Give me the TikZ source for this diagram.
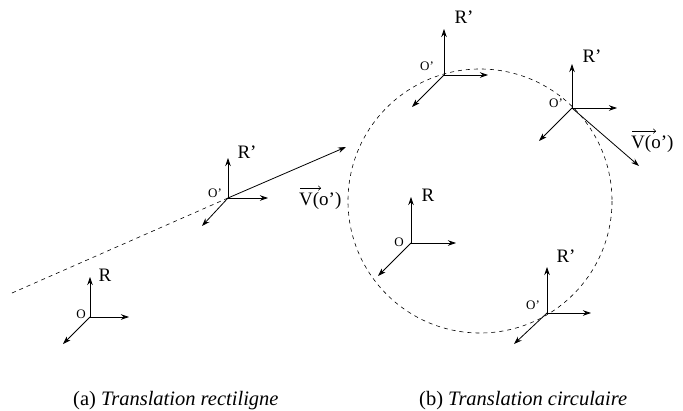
\documentclass[tikz,border=0pt]{standalone}
\usepackage{fontspec}
\setmainfont{Liberation Serif}
\usetikzlibrary{arrows.meta}
\begin{document}
\begin{tikzpicture}[x=1pt,y=-1pt,
  ax/.style={line width=0.8pt,-{Stealth[length=8pt,width=5.5pt]}},
  traj/.style={line width=0.6pt,dash pattern=on 4pt off 4pt},
  overarrow/.style={line width=0.5pt,-{To[length=3pt,width=5pt]}},
  big/.style={font=\fontsize{19}{19}\selectfont,inner sep=0pt},
  small/.style={font=\fontsize{13}{13}\selectfont,inner sep=0pt},
  captext/.style={font=\fontsize{20.5}{21}\selectfont,inner sep=0pt}]
\useasboundingbox (0,0) rectangle (683,410);
% ---------- (a) ----------
\coordinate (start) at (12,293);
\coordinate (Oa) at (90,317);
\coordinate (Oa1) at (228,198);
\draw[traj] (start) -- (Oa1);
\draw[ax] (Oa) -- (90,277);
\draw[ax] (Oa) -- (129,317);
\draw[ax] (Oa) -- (63,344);
\node[big] (Ra) at (105,275) {R};
\node[small] (oa) at (81,314) {O};
\draw[ax] (Oa1) -- (228,158);
\draw[ax] (Oa1) -- (268,198);
\draw[ax] (Oa1) -- (202,226);
\draw[ax] (Oa1) -- (346,147);
\node[big] (Ra1) at (247,152) {R'};
\node[small] (oa1) at (215,193) {O'};
\node[big,anchor=base west] (Va) at (299,205) {V(o')};
\coordinate (Va1) at ([xshift=1pt,yshift=3.5pt]Va.north west);
\coordinate (Va2) at ([xshift=21pt]Va1);
\draw[overarrow] (Va1) -- (Va2);
% ---------- (b) ----------
\coordinate (C) at (480,201);
\draw[traj] (C) circle[radius=132];
\coordinate (Ob) at (411,243);
\draw[ax] (Ob) -- (411,197);
\draw[ax] (Ob) -- (456,243);
\draw[ax] (Ob) -- (378,276);
\node[big] (Rb) at (428,195) {R};
\node[small] (ob) at (399,242) {O};
% top frame
\coordinate (Ot) at (444,75);
\draw[ax] (Ot) -- (444,29);
\draw[ax] (Ot) -- (488,75);
\draw[ax] (Ot) -- (412,107);
\node[big] (Rt) at (464,17) {R'};
\node[small] (ot) at (427,66) {O'};
% right frame
\coordinate (Or) at (572,108);
\draw[ax] (Or) -- (572,64);
\draw[ax] (Or) -- (617,108);
\draw[ax] (Or) -- (539,141);
\draw[ax] (Or) -- (639,166);
\node[big] (Rr) at (592,56) {R'};
\node[small] (or) at (556,103) {O'};
\node[big,anchor=base west] (Vr) at (631,148) {V(o')};
\coordinate (Vr1) at ([xshift=1pt,yshift=3.5pt]Vr.north west);
\coordinate (Vr2) at ([xshift=24pt]Vr1);
\draw[overarrow] (Vr1) -- (Vr2);
% bottom frame
\coordinate (Ol) at (547,313);
\draw[ax] (Ol) -- (547,267);
\draw[ax] (Ol) -- (591,313);
\draw[ax] (Ol) -- (514,344);
\node[big] (Rl) at (566,256) {R'};
\node[small] (ol) at (533,305) {O'};
% captions
\node[captext,anchor=base west] (capa) at (73,405) {(a) \textit{Translation rectiligne}};
\node[captext,anchor=base west] (capb) at (419,405) {(b) \textit{Translation circulaire}};
\end{tikzpicture}
\end{document}
